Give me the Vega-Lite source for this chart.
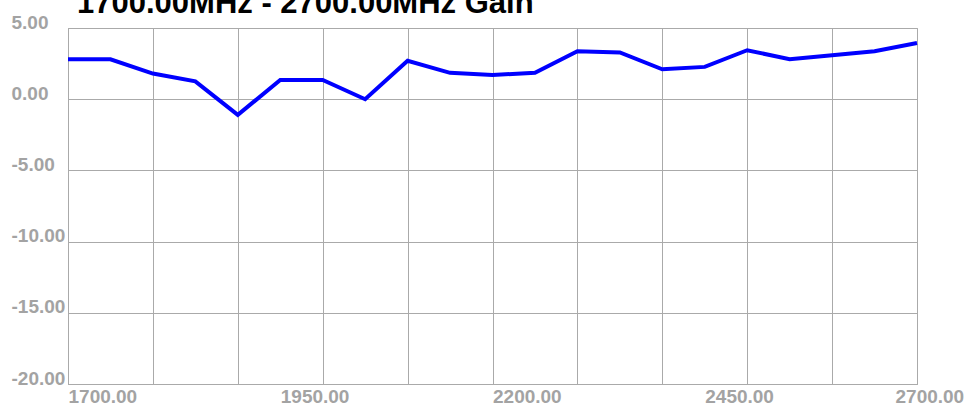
{
  "$schema": "https://vega.github.io/schema/vega-lite/v6.json",
  "width": 849,
  "height": 356,
  "autosize": {"type": "none"},
  "padding": {"left": 68, "top": 28, "right": 53, "bottom": 23},
  "background": "white",
  "title": {
    "text": "1700.00MHz - 2700.00MHz Gain",
    "anchor": "start",
    "frame": "group",
    "font": "Liberation Sans",
    "fontSize": 31,
    "fontWeight": "bold",
    "color": "black",
    "baseline": "alphabetic",
    "offset": 0,
    "dy": 31,
    "dx": 9
  },
  "config": {
    "view": {"stroke": "#aaaaaa", "strokeWidth": 1},
    "axis": {
      "labelFont": "Liberation Sans",
      "labelFontSize": 19,
      "labelFontWeight": "bold",
      "labelColor": "#a3a3a3",
      "gridColor": "#aaaaaa",
      "gridWidth": 1,
      "domainColor": "#aaaaaa",
      "ticks": false,
      "tickSize": 0,
      "labelOverlap": false,
      "labelFlush": false,
      "labelBound": false,
      "title": null
    }
  },
  "data": {
    "values": [
      {"freq": 1700, "gain": 2.8},
      {"freq": 1750, "gain": 2.8},
      {"freq": 1800, "gain": 1.8},
      {"freq": 1850, "gain": 1.25},
      {"freq": 1900, "gain": -1.1},
      {"freq": 1950, "gain": 1.35},
      {"freq": 2000, "gain": 1.35},
      {"freq": 2050, "gain": 0.0},
      {"freq": 2100, "gain": 2.7},
      {"freq": 2150, "gain": 1.85},
      {"freq": 2200, "gain": 1.7},
      {"freq": 2250, "gain": 1.85},
      {"freq": 2300, "gain": 3.37},
      {"freq": 2350, "gain": 3.28},
      {"freq": 2400, "gain": 2.1},
      {"freq": 2450, "gain": 2.27},
      {"freq": 2500, "gain": 3.44},
      {"freq": 2550, "gain": 2.8},
      {"freq": 2600, "gain": 3.09},
      {"freq": 2650, "gain": 3.37},
      {"freq": 2700, "gain": 3.95}
    ]
  },
  "mark": {"type": "line", "color": "#0000ff", "strokeWidth": 4, "strokeJoin": "miter"},
  "encoding": {
    "x": {
      "field": "freq",
      "type": "quantitative",
      "scale": {"domain": [1700, 2700], "nice": false, "zero": false},
      "axis": {
        "values": [1700, 1800, 1900, 1950, 2000, 2100, 2200, 2300, 2400, 2450, 2500, 2600, 2700],
        "labelExpr": "(datum.value - 1700) % 250 == 0 ? format(datum.value, '.2f') : ''",
        "labelAlign": "left",
        "labelBaseline": "top",
        "labelPadding": 3,
        "labelOffset": {"condition": {"test": "datum.value == 2700", "value": -22}, "value": 0},
        "gridOpacity": {"condition": {"test": "datum.value == 1950 || datum.value == 2450", "value": 0}, "value": 1},
        "grid": true
      }
    },
    "y": {
      "field": "gain",
      "type": "quantitative",
      "scale": {"domain": [-20, 5], "nice": false, "zero": false},
      "axis": {
        "values": [-20, -15, -10, -5, 0, 5],
        "labelExpr": "replace(format(datum.value, '.2f'), '\u2212', '-')",
        "labelAlign": "left",
        "labelBaseline": "alphabetic",
        "labelPadding": 57,
        "grid": true
      }
    }
  }
}
